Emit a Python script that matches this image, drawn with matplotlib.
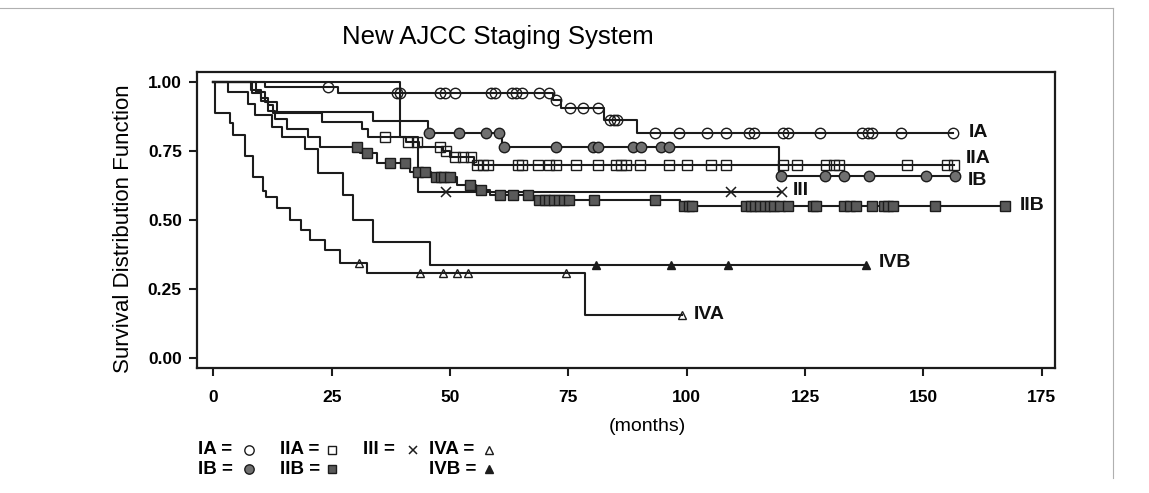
import matplotlib

matplotlib.use("Agg")

import matplotlib.pyplot as plt
import numpy as np
from matplotlib.lines import Line2D
from matplotlib.ticker import FormatStrFormatter

plt.rcParams["font.family"] = ["Liberation Sans", "DejaVu Sans"]

# Kaplan-Meier curves: event times (months), survival after
# each event, and censoring times (the markers).
IA_EVENT_T = [11.0, 26.4, 71.8, 73.5, 82.5, 89.5]
IA_EVENT_S = [0.982, 0.958, 0.932, 0.904, 0.862, 0.813]
IA_CENS = [24.3, 38.7, 39.4, 47.8, 48.9, 51.0, 58.7, 59.4, 63.0, 64.0, 65.1, 68.9,
           71.0, 72.4, 75.3, 78.1, 81.2, 83.8, 84.6, 85.3, 93.4, 98.3, 104.2, 108.2,
           113.2, 114.3, 120.3, 121.3, 128.1, 137.1, 138.2, 139.2, 145.2, 156.3]

IB_EVENT_T = [9.0, 11.0, 13.5, 33.8, 45.3, 61.0, 119.5]
IB_EVENT_S = [0.964, 0.928, 0.892, 0.857, 0.815, 0.765, 0.659]
IB_CENS = [45.6, 52.0, 57.5, 60.3, 61.3, 72.4, 80.2, 81.2, 88.6, 90.4, 94.6, 96.3,
           119.9, 129.3, 133.3, 138.5, 150.5, 156.6]

IIA_EVENT_T = [8.0, 10.0, 11.5, 12.5, 22.9, 31.3, 32.7, 40.8, 43.5, 48.5, 50.0, 55.0]
IIA_EVENT_S = [0.97, 0.94, 0.915, 0.886, 0.853, 0.83, 0.80, 0.783, 0.765, 0.75, 0.729, 0.699]
IIA_CENS = [36.2, 41.2, 43.0, 47.8, 49.2, 51.0, 52.7, 54.5, 55.8, 57.0, 58.0, 64.3,
            65.3, 68.6, 71.0, 72.4, 76.7, 81.2, 85.1, 86.2, 87.2, 90.1, 96.2, 100.0,
            105.1, 108.3, 120.3, 123.4, 129.4, 131.2, 132.2, 146.6, 155.0, 156.4]

IIB_EVENT_T = [8.1, 10.0, 11.5, 13.0, 15.5, 20.0, 22.5, 31.0, 34.5, 41.5, 46.0, 51.5,
               55.5, 58.5, 67.5, 98.5]
IIB_EVENT_S = [0.96, 0.93, 0.895, 0.865, 0.83, 0.80, 0.765, 0.741, 0.705, 0.675, 0.657,
               0.627, 0.608, 0.592, 0.574, 0.551]
IIB_CENS = [30.3, 32.4, 37.3, 40.4, 43.2, 44.7, 47.1, 48.0, 48.8, 49.9, 54.2, 56.6,
            60.5, 63.3, 66.5, 68.9, 70.0, 71.0, 72.0, 73.0, 74.0, 75.2, 80.5, 93.4,
            99.5, 100.4, 101.2, 112.5, 113.5, 114.5, 115.5, 116.5, 117.5, 118.5, 119.6,
            121.3, 126.6, 127.4, 133.3, 134.5, 135.7, 139.2, 141.7, 142.6, 143.5,
            152.5, 167.2]

III_EVENT_T = [39.4, 43.3]
III_EVENT_S = [0.80, 0.60]
III_CENS = [49.1, 109.4, 120.2]

IVA_EVENT_T = [0.4, 3.5, 4.2, 6.7, 8.3, 10.5, 11.2, 13.5, 16.3, 18.6, 20.4, 23.6,
               26.7, 32.5, 78.6]
IVA_EVENT_S = [0.886, 0.85, 0.807, 0.732, 0.655, 0.605, 0.584, 0.545, 0.50, 0.464,
               0.428, 0.39, 0.346, 0.307, 0.157]
IVA_CENS = [30.7, 43.6, 48.6, 51.5, 53.7, 74.5, 98.9]

IVB_EVENT_T = [3.2, 7.4, 8.8, 12.3, 14.4, 19.3, 22.2, 27.4, 29.5, 33.8, 45.7]
IVB_EVENT_S = [0.964, 0.92, 0.88, 0.837, 0.80, 0.755, 0.669, 0.59, 0.50, 0.42, 0.338]
IVB_CENS = [80.8, 96.7, 108.8, 137.9]

X_TICKS = [0, 25, 50, 75, 100, 125, 150, 175]
Y_TICKS = [0.00, 0.25, 0.50, 0.75, 1.00]

LINE = "#1c1c1c"
OPEN = dict(markerfacecolor="none", markeredgecolor=LINE, markeredgewidth=1.0)

STAGES = [
    # name, events, survival, censored, marker style, curve label position
    ("IA", IA_EVENT_T, IA_EVENT_S, IA_CENS, dict(marker="o", ms=7.5, **OPEN), (159.5, 0.816)),
    ("IB", IB_EVENT_T, IB_EVENT_S, IB_CENS,
     dict(marker="o", ms=7.5, markerfacecolor="#707070", markeredgecolor=LINE, markeredgewidth=1.0),
     (159.3, 0.642)),
    ("IIA", IIA_EVENT_T, IIA_EVENT_S, IIA_CENS, dict(marker="s", ms=6.5, **OPEN), (159.0, 0.722)),
    ("IIB", IIB_EVENT_T, IIB_EVENT_S, IIB_CENS,
     dict(marker="s", ms=6.5, markerfacecolor="#5a5a5a", markeredgecolor=LINE, markeredgewidth=1.0),
     (170.3, 0.552)),
    ("III", III_EVENT_T, III_EVENT_S, III_CENS,
     dict(marker="x", ms=6.5, markeredgecolor=LINE, markeredgewidth=1.1), (122.5, 0.606)),
    ("IVA", IVA_EVENT_T, IVA_EVENT_S, IVA_CENS, dict(marker="^", ms=6.0, **OPEN), (101.5, 0.157)),
    ("IVB", IVB_EVENT_T, IVB_EVENT_S, IVB_CENS,
     dict(marker="^", ms=6.0, markerfacecolor=LINE, markeredgecolor=LINE, markeredgewidth=1.0),
     (140.6, 0.345)),
]

# key below the plot: text left edge, symbol centre, row (pixels in the figure)
KEY_LAYOUT = {
    "IA": (198, 249, 450), "IB": (198, 249, 469),
    "IIA": (280, 332, 450), "IIB": (280, 332, 469),
    "III": (363, 413, 450),
    "IVA": (429, 489, 450), "IVB": (429, 489, 469),
}

W, H = 1149, 493


def km_level(event_t, event_s, t):
    idx = int(np.searchsorted(event_t, t, side="right"))
    return 1.0 if idx == 0 else event_s[idx - 1]


fig = plt.figure(figsize=(W / 100, H / 100), dpi=100)
ax = fig.add_axes([0.1715, 0.2535, 0.7467, 0.6011])

for name, ev_t, ev_s, cens, mstyle, label_pos in STAGES:
    end_t = max(cens)
    xs = [0.0] + ev_t + [end_t]
    ys = [1.0] + ev_s + [ev_s[-1]]
    ax.step(xs, ys, where="post", color=LINE, lw=1.5, zorder=2)
    cens_y = [km_level(ev_t, ev_s, t) for t in cens]
    ax.plot(cens, cens_y, linestyle="none", zorder=3, **mstyle)
    ax.text(label_pos[0], label_pos[1], name, fontsize=14, fontweight="bold",
            ha="left", va="center", color="#111111")

    # key entry: "IA = o"
    tx, mx, row = KEY_LAYOUT[name]
    fig.text(tx / W, 1 - row / H, f"{name} =", fontsize=13.5, fontweight="bold",
             ha="left", va="center")
    key_style = dict(mstyle)
    key_style["ms"] = mstyle["ms"] * 0.9
    fig.add_artist(Line2D([mx / W], [1 - row / H], transform=fig.transFigure,
                          linestyle="none", **key_style))

ax.set_xlim(-3.44, 177.8)
ax.set_ylim(-0.035, 1.036)
ax.set_xticks(X_TICKS)
ax.set_yticks(Y_TICKS)
ax.yaxis.set_major_formatter(FormatStrFormatter("%.2f"))
ax.tick_params(direction="out", length=6, width=1.5, color=LINE, labelsize=12.5)
ax.tick_params(axis="x", pad=10)
ax.tick_params(axis="y", pad=5)
for lab in ax.get_xticklabels() + ax.get_yticklabels():
    lab.set_fontweight("bold")
for spine in ax.spines.values():
    spine.set_linewidth(1.6)
    spine.set_color(LINE)

ax.set_ylabel("Survival Distribution Function", fontsize=16)
ax.yaxis.set_label_coords(-0.074, 0.47)

fig.text(497.5 / W, 1 - 36.7 / H, "New AJCC Staging System", fontsize=18.5,
         ha="center", va="center")
fig.text(647 / W, 1 - 426.7 / H, "(months)", fontsize=14, ha="center", va="center")

# light frame of the original figure panel
fig.add_artist(Line2D([0, 1113 / W], [1 - 8 / H, 1 - 8 / H],
                      transform=fig.transFigure, color="#b0b0b0", lw=0.8))
fig.add_artist(Line2D([1113 / W, 1113 / W], [1 - 8 / H, 1 - 478 / H],
                      transform=fig.transFigure, color="#b0b0b0", lw=0.8))

fig.savefig("out.png", dpi=100)
